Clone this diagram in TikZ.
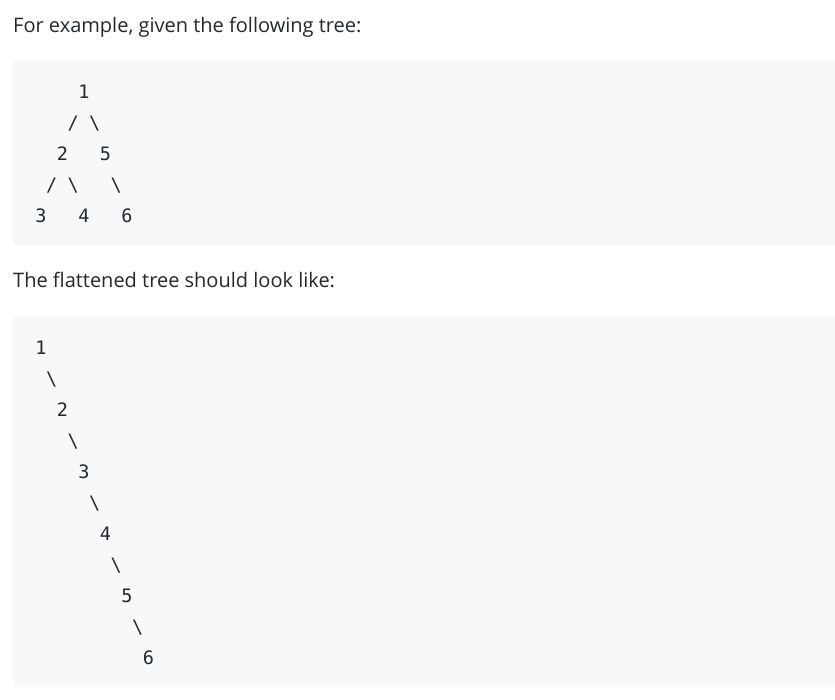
\documentclass[tikz,border=0pt]{standalone}
\usepackage{fontspec}
\setmainfont{Open Sans}
\setmonofont{DejaVu Sans Mono}
\definecolor{textgray}{RGB}{36,41,46}
\definecolor{codebg}{RGB}{246,248,250}
\usetikzlibrary{positioning}

\begin{document}
\begin{tikzpicture}[x=1pt,y=-1pt,
    heading/.style={anchor=base west, inner sep=0pt, text=textgray, font=\fontsize{20}{24}\selectfont},
    glyph/.style={anchor=base, inner sep=0pt, text=textgray, font=\ttfamily\fontsize{18.5}{22}\selectfont}]
    \clip (0,0) rectangle (835,699);
    \fill[white] (0,0) rectangle (835,699);
    % code blocks
    \fill[codebg, rounded corners=3pt] (13,60) rectangle (845,245);
    \fill[codebg, rounded corners=3pt] (13,316) rectangle (845,687);
    % headings
    \node[heading] (intro) at (13,32) {For example, given the following tree:};
    \node[heading] (result) at (13,287) {The flattened tree should look like:};
    % given tree
    \foreach \c/\r/\ch/\nm in {4/0/1/t1, 3/1/{/}/ta, 5/1/\textbackslash/tb,
        2/2/2/t2, 6/2/5/t5, 1/3/{/}/tc, 3/3/\textbackslash/td, 7/3/\textbackslash/te,
        0/4/3/t3, 4/4/4/t4, 8/4/6/t6}
        \node[glyph] (\nm) at ({41+10.75*\c},{98+31*\r}) {\ch};
    % flattened tree
    \foreach \k in {1,...,6}
        \node[glyph] (f\k) at ({41+21.5*(\k-1)},{354+62*(\k-1)}) {\k};
    \foreach \k in {1,...,5}
        \node[glyph] (b\k) at ({41+10.75*(2*\k-1)},{354+31*(2*\k-1)}) {\textbackslash};
\end{tikzpicture}
\end{document}
